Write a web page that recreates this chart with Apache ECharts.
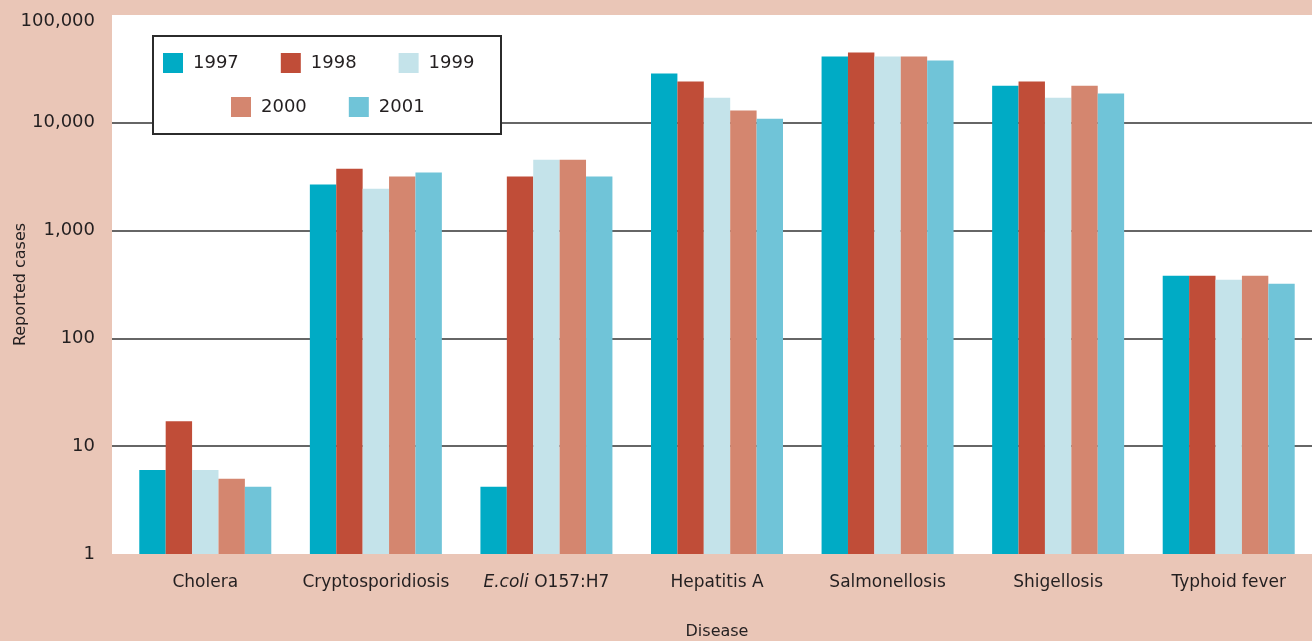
<!DOCTYPE html>
<html>
<head>
<meta charset="utf-8">
<title>Reported cases by disease, 1997–2001</title>
<script src="https://cdn.jsdelivr.net/npm/echarts@6/dist/echarts.min.js"></script>
<style>
  html, body { margin: 0; padding: 0; background: #eac6b7; }
  #chart { width: 1312px; height: 641px; }
</style>
</head>
<body>
<div id="chart"></div>
<script>
// Diseases on the category axis
const diseases = ['Cholera', 'Cryptosporidiosis', 'E.coli O157:H7', 'Hepatitis A', 'Salmonellosis', 'Shigellosis', 'Typhoid fever'];

// Reported cases per year (same order as diseases)
const cases1997 = [6, 2670, 4.2, 28600, 41200, 22100, 381];
const cases1998 = [17, 3750, 3170, 24100, 44900, 24100, 381];
const cases1999 = [6, 2450, 4550, 17100, 41200, 17100, 350];
const cases2000 = [5, 3170, 4550, 13000, 41200, 22100, 381];
const cases2001 = [4.2, 3450, 3170, 10900, 37800, 18700, 321];

const years = ['1997', '1998', '1999', '2000', '2001'];
const yearColors = ['#00abc5', '#c04d38', '#c4e3ea', '#d4866f', '#70c4d8'];
const yearValues = [cases1997, cases1998, cases1999, cases2000, cases2001];

const FONT = '"DejaVu Sans", "Noto Sans", sans-serif';
const INK = '#231f20';

const chart = echarts.init(document.getElementById('chart'), null, { renderer: 'canvas' });

const series = years.map((y, i) => ({
  name: y,
  type: 'bar',
  xAxisIndex: 0,
  yAxisIndex: 0,
  data: yearValues[i],
  barWidth: 26.4,
  barGap: '0%',
  itemStyle: { color: yearColors[i] },
  emphasis: { disabled: true }
}));

const legendCommon = {
  orient: 'horizontal',
  icon: 'rect',
  itemWidth: 20,
  itemHeight: 20,
  itemGap: 42,
  padding: 0,
  z: 10,
  selectedMode: false,
  textStyle: { fontFamily: FONT, fontSize: 18, color: INK, padding: [0, 0, 0, 5] }
};

// Shared log scale settings for the value axes
const logScale = { type: 'log', logBase: 10, min: 1, max: 100000 };

chart.setOption({
  backgroundColor: '#eac6b7',
  animation: false,
  textStyle: { fontFamily: FONT },
  grid: [
    // bars
    { left: 120, right: -2, top: 15, bottom: 87, outerBoundsMode: 'none', containLabel: false, show: false },
    // white plotting panel and gridlines
    { left: 112, right: 0, top: 15, bottom: 87, outerBoundsMode: 'none', containLabel: false,
      show: true, backgroundColor: '#ffffff', borderWidth: 0 }
  ],
  graphic: [{
    type: 'rect',
    z: 5,
    shape: { x: 153, y: 36, width: 348, height: 98 },
    style: { fill: '#ffffff', stroke: '#2b2b2b', lineWidth: 2 }
  }],
  legend: [
    Object.assign({}, legendCommon, { data: years.slice(0, 3), left: 163, top: 53 }),
    Object.assign({}, legendCommon, { data: years.slice(3), left: 231, top: 97 })
  ],
  xAxis: [{
    type: 'category',
    gridIndex: 0,
    data: diseases,
    name: 'Disease',
    nameLocation: 'middle',
    nameGap: 70,
    nameMoveOverlap: false,
    nameTextStyle: { fontFamily: FONT, fontSize: 16, color: INK },
    axisLine: { show: false },
    axisTick: { show: false },
    axisLabel: {
      interval: 0,
      margin: 20,
      fontFamily: FONT,
      fontSize: 17,
      color: INK,
      formatter: function (v) {
        if (v.indexOf('E.coli') === 0) return '{i|E.coli}' + v.slice(6);
        return v;
      },
      rich: { i: { fontStyle: 'italic', fontFamily: FONT, fontSize: 17, color: INK } }
    }
  }, {
    type: 'category',
    gridIndex: 1,
    data: diseases,
    show: false
  }],
  yAxis: [Object.assign({}, logScale, {
    gridIndex: 0,
    name: 'Reported cases',
    nameLocation: 'middle',
    nameRotate: 90,
    nameGap: 91,
    nameMoveOverlap: false,
    nameTextStyle: { fontFamily: FONT, fontSize: 16, color: INK },
    axisLine: { show: false },
    axisTick: { show: false },
    splitLine: { show: false },
    axisLabel: {
      margin: 25,
      fontFamily: FONT,
      fontSize: 18,
      color: INK,
      formatter: function (v) {
        const s = Math.round(v).toLocaleString('en-US');
        return Math.round(v) === 100000 ? '{t|' + s + '}' : s;
      },
      rich: { t: { fontFamily: FONT, fontSize: 18, color: INK, padding: [12, 0, 0, 0] } }
    }
  }), Object.assign({}, logScale, {
    gridIndex: 1,
    axisLine: { show: false },
    axisTick: { show: false },
    axisLabel: { show: false },
    splitLine: {
      show: true,
      showMinLine: false,
      showMaxLine: false,
      lineStyle: { color: '#333333', width: 1.5 }
    }
  })],
  series: series
});
</script>
</body>
</html>
